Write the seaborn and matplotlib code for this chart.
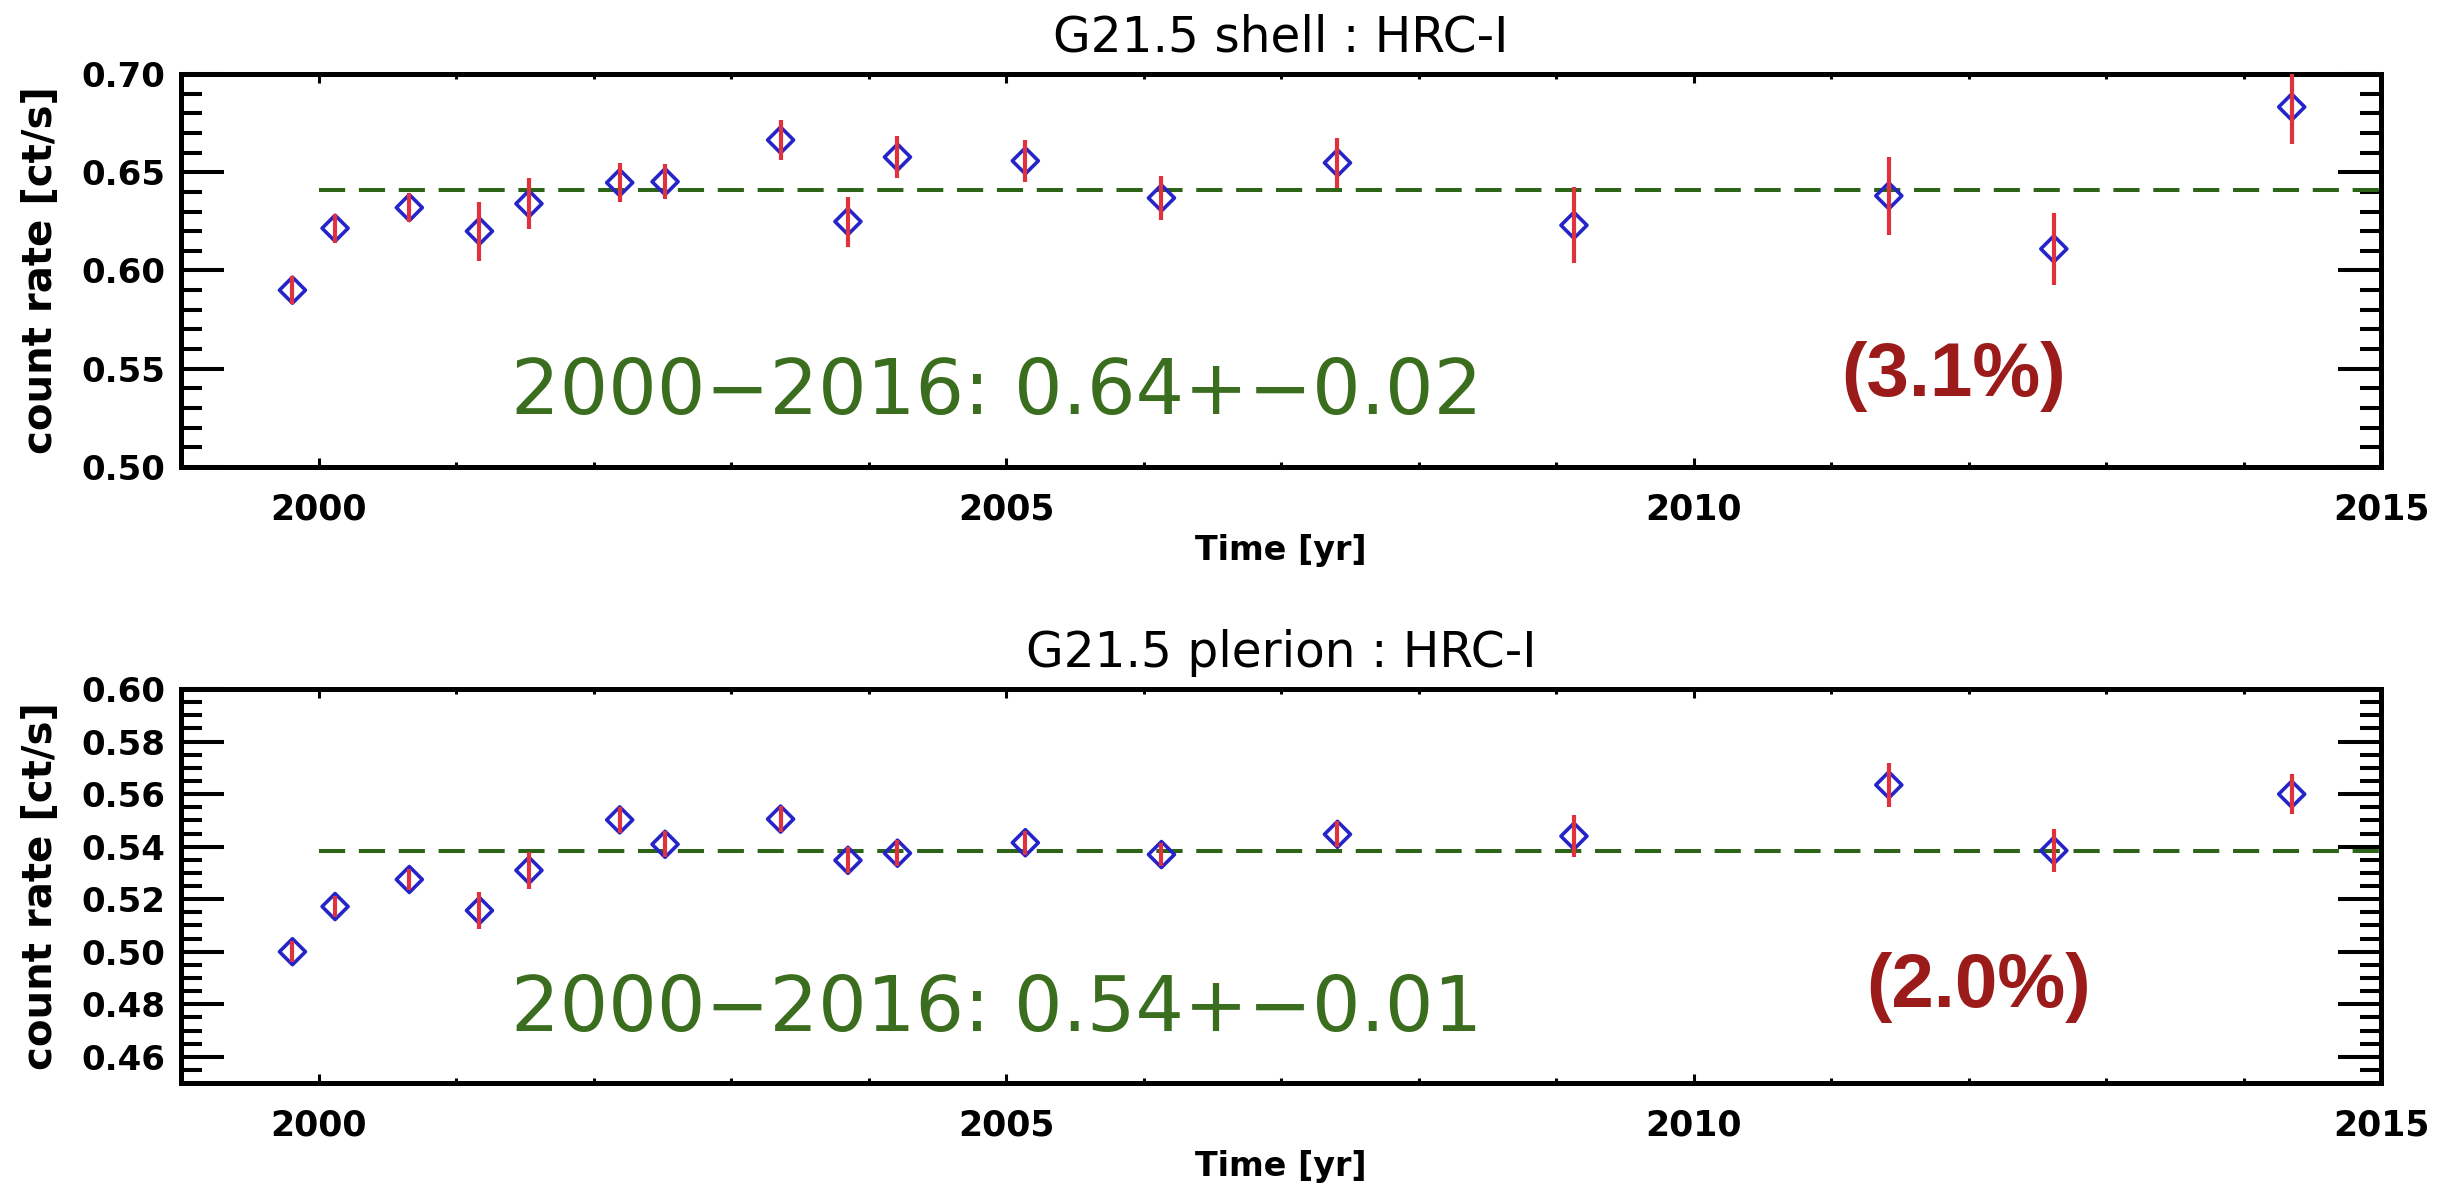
import matplotlib
matplotlib.use("Agg")
import matplotlib.pyplot as plt
from matplotlib.ticker import MultipleLocator, FormatStrFormatter
import pandas as pd
import seaborn as sns

# Observation epochs (decimal year)
obs_year = [1999.81, 2000.12, 2000.66, 2001.17, 2001.53, 2002.19, 2002.52,
            2003.36, 2003.85, 2004.21, 2005.14, 2006.13, 2007.41, 2009.13,
            2011.42, 2012.62, 2014.35]

# Shell count rates and 1-sigma errors [ct/s]
shell_rate = [0.590, 0.6215, 0.632, 0.620, 0.634, 0.6447, 0.6452, 0.6664,
              0.6249, 0.6577, 0.6558, 0.6369, 0.6548, 0.623, 0.638, 0.611,
              0.6832]
shell_err = [0.007, 0.0075, 0.0075, 0.015, 0.013, 0.010, 0.009, 0.010,
             0.0127, 0.0106, 0.0106, 0.011, 0.0127, 0.0193, 0.0197, 0.0183,
             0.019]

# Plerion count rates and 1-sigma errors [ct/s]
plerion_rate = [0.500, 0.5172, 0.5275, 0.5157, 0.5310, 0.5502, 0.5409,
                0.5505, 0.5348, 0.5375, 0.5415, 0.5370, 0.5447, 0.5440,
                0.5635, 0.5385, 0.5600]
plerion_err = [0.004, 0.004, 0.004, 0.007, 0.007, 0.005, 0.005, 0.005,
               0.005, 0.005, 0.0045, 0.0045, 0.005, 0.008, 0.0085, 0.0081,
               0.0077]

# Mean level and scatter over the fitted period
fit_years = [2000, 2016]
shell_mean, shell_sigma = 0.641, 0.0199
plerion_mean, plerion_sigma = 0.5385, 0.0108

BLUE = "#2424c8"
RED = "#e0323c"
GREEN_LINE = "#2e6418"
GREEN_TEXT = "#3a6e1e"
DARK_RED = "#9b1b1b"

sns.set_theme(style="white")
plt.rcParams["font.family"] = ["DejaVu Sans"]
plt.rcParams["font.weight"] = "bold"
plt.rcParams["axes.edgecolor"] = "black"
plt.rcParams["axes.labelcolor"] = "black"
plt.rcParams["axes.titlecolor"] = "black"
plt.rcParams["axes.linewidth"] = 3.6
plt.rcParams["text.color"] = "black"
plt.rcParams["xtick.color"] = "black"
plt.rcParams["ytick.color"] = "black"

fig = plt.figure(figsize=(24.57, 11.99), dpi=100)
fig.patch.set_facecolor("white")

panels = [
    dict(title="G21.5 shell : HRC-I", rate=shell_rate, err=shell_err,
         mean=shell_mean, sigma=shell_sigma,
         rect=[0.0737, 0.6105, 0.8954, 0.3278], ylim=(0.50, 0.70),
         major=0.05, minor=0.01, green_y=0.136, red_x=0.8055, red_y=0.180),
    dict(title="G21.5 plerion : HRC-I", rate=plerion_rate, err=plerion_err,
         mean=plerion_mean, sigma=plerion_sigma,
         rect=[0.0737, 0.0967, 0.8954, 0.3286], ylim=(0.45, 0.60),
         major=0.02, minor=0.005, green_y=0.131, red_x=0.817, red_y=0.192),
]

for p in panels:
    ax = fig.add_axes(p["rect"])
    ax.set_facecolor("white")
    df = pd.DataFrame({"year": obs_year, "rate": p["rate"], "err": p["err"]})
    level = pd.DataFrame({"year": fit_years, "rate": [p["mean"]] * len(fit_years)})

    # Mean count rate over the period
    sns.lineplot(data=level, x="year", y="rate", ax=ax, color=GREEN_LINE,
                 linewidth=2.9, linestyle=(0, (6.5, 3.4)), errorbar=None,
                 zorder=2)
    # Measured rates as open diamonds
    sns.scatterplot(data=df, x="year", y="rate", ax=ax, marker="D", s=175,
                    facecolor="none", edgecolor=BLUE, linewidth=2.6,
                    zorder=3)
    # Error bars
    ax.errorbar(df["year"], df["rate"], yerr=df["err"], fmt="none",
                ecolor=RED, elinewidth=3.0, capsize=0, zorder=4)

    ax.set_xlim(1999, 2015)
    ax.set_ylim(*p["ylim"])
    ax.xaxis.set_major_locator(MultipleLocator(5))
    ax.xaxis.set_minor_locator(MultipleLocator(1))
    ax.xaxis.set_major_formatter(FormatStrFormatter("%d"))
    ax.yaxis.set_major_locator(MultipleLocator(p["major"]))
    ax.yaxis.set_minor_locator(MultipleLocator(p["minor"]))
    ax.yaxis.set_major_formatter(FormatStrFormatter("%.2f"))

    ax.tick_params(axis="y", which="major", direction="in", length=31,
                   width=2.9, left=True, right=True, labelsize=24.5, pad=11.5)
    ax.tick_params(axis="y", which="minor", direction="in", length=15,
                   width=2.9, left=True, right=True)
    ax.tick_params(axis="x", which="major", direction="in", length=6.5,
                   width=2.2, top=True, bottom=True, labelsize=25, pad=18)
    ax.tick_params(axis="x", which="minor", direction="in", length=3.6,
                   width=2.2, top=True, bottom=True)
    for s in ax.spines.values():
        s.set_visible(True)
        s.set_linewidth(3.6)
        s.set_color("black")

    ax.set_title(p["title"], fontsize=35, fontweight="normal", pad=16,
                 color="black")
    ax.set_xlabel("Time [yr]", fontsize=24, fontweight="bold", color="black")
    ax.set_ylabel("count rate [ct/s]", fontsize=29, fontweight="bold",
                  color="black")
    ax.xaxis.set_label_coords(0.5, -0.17)
    ax.yaxis.set_label_coords(-0.0545, 0.5)

    start, end = fit_years
    ax.text(0.150, p["green_y"],
            f"{start}\u2212{end}: {p['mean']:.2f}+\u2212{p['sigma']:.2f}",
            transform=ax.transAxes, fontsize=55, fontweight="normal",
            color=GREEN_TEXT, ha="left", va="baseline")
    ax.text(p["red_x"], p["red_y"],
            f"({100 * p['sigma'] / p['mean']:.1f}%)",
            transform=ax.transAxes, fontsize=55, fontweight="bold",
            family=["Liberation Sans", "DejaVu Sans"], color=DARK_RED,
            ha="center", va="baseline")

fig.savefig("out.png", dpi=100, facecolor="white")
